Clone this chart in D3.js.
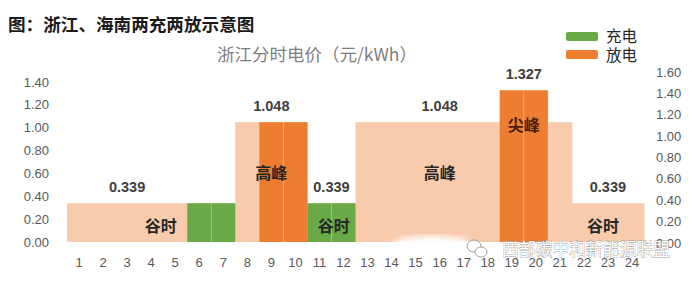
<!DOCTYPE html>
<html>
<head>
<meta charset="utf-8">
<script src="https://cdn.jsdelivr.net/npm/d3@7/dist/d3.min.js"></script>
<style>
  html, body { margin: 0; padding: 0; background: #fff; }
  svg { display: block; }
</style>
</head>
<body>
<svg id="chart" width="692" height="282"></svg>
<script>
// Hours of the day and Zhejiang time-of-use price (元/kWh)
const hours = d3.range(1, 25);
const price = [0.339, 0.339, 0.339, 0.339, 0.339, 0.339, 0.339,
               1.048, 1.048, 1.048, 0.339, 0.339,
               1.048, 1.048, 1.048, 1.048, 1.048, 1.048,
               1.327, 1.327, 1.048, 0.339, 0.339, 0.339];
// Charging hours (充电) and discharging hours (放电)
const chargeHours = [6, 7, 11, 12];
const chargeValues = [0.339, 0.339, 0.339, 0.339];
const dischargeHours = [9, 10, 19, 20];
const dischargeValues = [1.048, 1.048, 1.327, 1.327];
// Period annotations: hour where the text sits, price, period name
const annoHour = [3, 9, 11.5, 16, 19.5, 23];
const annoValue = [0.339, 1.048, 0.339, 1.048, 1.327, 0.339];
const annoName = ["谷时", "高峰", "谷时", "高峰", "尖峰", "谷时"];
const leftTicks = [0, 0.2, 0.4, 0.6, 0.8, 1.0, 1.2, 1.4];
const rightTicks = [0, 0.2, 0.4, 0.6, 0.8, 1.0, 1.2, 1.4, 1.6];
const legendNames = ["充电", "放电"];

const colors = { peach: "#f8cbad", green: "#6aaa46", orange: "#ed7d31" };
const cjk = "'Noto Sans CJK SC', 'Noto Sans', sans-serif";
const num = "'Liberation Sans', 'Open Sans', sans-serif";

const svg = d3.select("#chart");

const x = d3.scaleBand().domain(hours).range([67, 644]).padding(0);
const y = d3.scaleLinear().domain([0, 1.6]).range([242, 59.1]);
const yR = d3.scaleLinear().domain([0, 1.6]).range([243, 72]);

// Headline
svg.append("text").attr("x", 8).attr("y", 31)
  .attr("font-family", cjk).attr("font-weight", "bold").attr("font-size", 17.6)
  .attr("fill", "#1a1a1a").text("图：浙江、海南两充两放示意图");

svg.append("text").attr("x", 317).attr("y", 61).attr("text-anchor", "middle")
  .attr("font-family", cjk).attr("font-size", 17.5)
  .attr("fill", "#7f7f7f").text("浙江分时电价（元/kWh）");

// Price background bars
svg.append("g").selectAll("rect").data(hours).join("rect")
  .attr("x", d => x(d)).attr("width", x.bandwidth() + 0.5)
  .attr("y", (d, i) => y(price[i])).attr("height", (d, i) => y(0) - y(price[i]))
  .attr("fill", colors.peach);

function drawSeries(hs, vs, color) {
  const g = svg.append("g");
  g.selectAll("rect").data(hs).join("rect")
    .attr("x", d => x(d)).attr("width", x.bandwidth())
    .attr("y", (d, i) => y(vs[i])).attr("height", (d, i) => y(0) - y(vs[i]))
    .attr("fill", color);
  // faint seam between neighbouring bars
  g.selectAll("line").data(hs.filter((d, i) => i > 0 && hs[i - 1] === d - 1)).join("line")
    .attr("x1", d => x(d)).attr("x2", d => x(d))
    .attr("y1", d => y(vs[hs.indexOf(d)])).attr("y2", y(0))
    .attr("stroke", "#ffffff").attr("stroke-opacity", 0.22).attr("stroke-width", 1);
}
drawSeries(chargeHours, chargeValues, colors.green);
drawSeries(dischargeHours, dischargeValues, colors.orange);

// Left axis labels
svg.append("g").selectAll("text").data(leftTicks).join("text")
  .attr("x", 49).attr("y", d => y(d)).attr("dy", "0.35em").attr("text-anchor", "end")
  .attr("font-family", num).attr("font-size", 13).attr("fill", "#595959")
  .text(d => d3.format(".2f")(d));

// Right axis labels
svg.append("g").selectAll("text").data(rightTicks).join("text")
  .attr("x", 656).attr("y", d => yR(d)).attr("dy", "0.35em").attr("text-anchor", "start")
  .attr("font-family", num).attr("font-size", 13).attr("fill", "#595959")
  .text(d => d3.format(".2f")(d));

// Hour labels
svg.append("g").selectAll("text").data(hours).join("text")
  .attr("x", d => x(d) + x.bandwidth() / 2).attr("y", 267).attr("text-anchor", "middle")
  .attr("font-family", num).attr("font-size", 13).attr("fill", "#595959")
  .text(d => d);

// Price labels and period names
const xc = h => x(1) + (h - 0.5) * x.bandwidth();
const nameAt = [0.14, 0.6, 0.14, 0.6, 1.02, 0.14];
const nameShift = [1.4, 0, 0.1, 0, 0, -0.2];
svg.append("g").selectAll("text").data(annoValue).join("text")
  .attr("x", (d, i) => xc(annoHour[i])).attr("y", d => y(d) - 16).attr("dy", "0.35em")
  .attr("text-anchor", "middle")
  .attr("font-family", num).attr("font-weight", "bold").attr("font-size", 14.5)
  .attr("fill", "#404040").text(d => d3.format(".3f")(d));
svg.append("g").selectAll("text").data(annoName).join("text")
  .attr("x", (d, i) => xc(annoHour[i] + nameShift[i])).attr("y", (d, i) => y(nameAt[i])).attr("dy", "0.35em")
  .attr("text-anchor", "middle")
  .attr("font-family", cjk).attr("font-weight", "bold").attr("font-size", 16)
  .attr("fill", d => d === "尖峰" ? "#4a1a0a" : "#262626").text(d => d);

// Legend
const legendColors = [colors.green, colors.orange];
const lg = svg.append("g");
legendNames.forEach((n, i) => {
  lg.append("rect").attr("x", 566).attr("y", 32 + i * 18).attr("width", 32).attr("height", 9)
    .attr("rx", 2).attr("fill", legendColors[i]);
  lg.append("text").attr("x", 606).attr("y", 37 + i * 19).attr("dy", "0.35em")
    .attr("font-family", cjk).attr("font-size", 15.5).attr("fill", "#262626").text(n);
});

// Account badge in the lower right corner
const defs = svg.append("defs");
defs.append("filter").attr("id", "soft").append("feGaussianBlur").attr("stdDeviation", 3);
svg.append("ellipse").attr("cx", 432).attr("cy", 243).attr("rx", 38).attr("ry", 7)
  .attr("fill", "#ffffff").attr("filter", "url(#soft)");
const badge = svg.append("g").attr("fill", "#ffffff").attr("stroke", "#8a8a8a").attr("stroke-width", 0.8);
badge.append("ellipse").attr("cx", 474).attr("cy", 246).attr("rx", 7).attr("ry", 6);
badge.append("ellipse").attr("cx", 481).attr("cy", 252).attr("rx", 6).attr("ry", 5);
svg.append("text").attr("x", 502).attr("y", 256)
  .attr("font-family", cjk).attr("font-size", 18.5)
  .attr("fill", "#ffffff").attr("stroke", "#6a6a6a").attr("stroke-width", 0.55)
  .attr("paint-order", "stroke").attr("textLength", 168).attr("lengthAdjust", "spacingAndGlyphs")
  .text("西部碳中和新能源联盟");
</script>
</body>
</html>
